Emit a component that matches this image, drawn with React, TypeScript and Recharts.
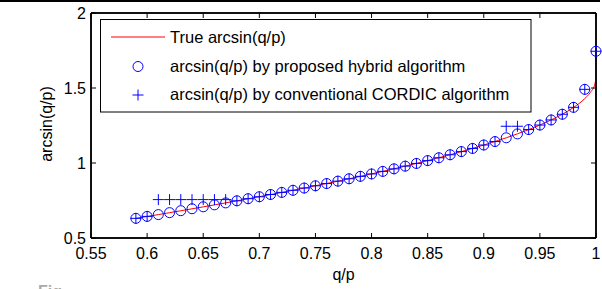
import React from "react";
import {
  ComposedChart,
  Line,
  Scatter,
  XAxis,
  YAxis,
  CartesianGrid,
} from "recharts";

// q/p sample points
const qpPoints = [
  0.59, 0.6, 0.61, 0.62, 0.63, 0.64, 0.65, 0.66, 0.67, 0.68, 0.69, 0.7, 0.71,
  0.72, 0.73, 0.74, 0.75, 0.76, 0.77, 0.78, 0.79, 0.8, 0.81, 0.82, 0.83, 0.84,
  0.85, 0.86, 0.87, 0.88, 0.89, 0.9, 0.91, 0.92, 0.93, 0.94, 0.95, 0.96, 0.97,
  0.98, 0.99, 1.0,
];

// arcsin(q/p) by proposed hybrid algorithm
const hybridValues = [
  0.631, 0.644, 0.656, 0.669, 0.682, 0.695, 0.708, 0.721, 0.734, 0.748, 0.762,
  0.775, 0.79, 0.804, 0.818, 0.833, 0.848, 0.863, 0.879, 0.895, 0.911, 0.927,
  0.944, 0.961, 0.979, 0.997, 1.016, 1.035, 1.055, 1.076, 1.097, 1.12, 1.143,
  1.168, 1.194, 1.223, 1.253, 1.287, 1.325, 1.371, 1.491, 1.745,
];

// arcsin(q/p) by conventional CORDIC algorithm
const cordicValues = [
  0.631, 0.644, 0.756, 0.756, 0.756, 0.756, 0.756, 0.756, 0.756, 0.748, 0.762,
  0.775, 0.79, 0.804, 0.818, 0.833, 0.848, 0.863, 0.879, 0.895, 0.911, 0.927,
  0.944, 0.961, 0.979, 0.997, 1.016, 1.035, 1.055, 1.076, 1.097, 1.12, 1.143,
  1.245, 1.245, 1.223, 1.253, 1.287, 1.325, 1.371, 1.491, 1.745,
];

// True arcsin(q/p) curve
const trueX = [
  0.59, 0.6, 0.61, 0.62, 0.63, 0.64, 0.65, 0.66, 0.67, 0.68, 0.69, 0.7, 0.71,
  0.72, 0.73, 0.74, 0.75, 0.76, 0.77, 0.78, 0.79, 0.8, 0.81, 0.82, 0.83, 0.84,
  0.85, 0.86, 0.87, 0.88, 0.89, 0.9, 0.91, 0.92, 0.93, 0.94, 0.95, 0.96, 0.97,
  0.98, 0.99, 0.995, 0.999, 1.0,
];
const trueY = [
  0.6311, 0.6435, 0.656, 0.6687, 0.6816, 0.6945, 0.7076, 0.7208, 0.7342,
  0.7478, 0.7615, 0.7754, 0.7895, 0.8038, 0.8183, 0.8331, 0.8481, 0.8633,
  0.8789, 0.8947, 0.9108, 0.9273, 0.9442, 0.9614, 0.9791, 0.9973, 1.016,
  1.0353, 1.0552, 1.0759, 1.0973, 1.1198, 1.1433, 1.1681, 1.1944, 1.2226,
  1.2532, 1.287, 1.3252, 1.3705, 1.4293, 1.4708, 1.5261, 1.5708,
];

const xTicks = [0.55, 0.6, 0.65, 0.7, 0.75, 0.8, 0.85, 0.9, 0.95, 1];
const yTicks = [0.5, 1, 1.5, 2];

const legendLabels = [
  "True arcsin(q/p)",
  "arcsin(q/p) by proposed hybrid algorithm",
  "arcsin(q/p) by conventional CORDIC algorithm",
];

const trueData = trueX.map((x, i) => ({ x, y: trueY[i] }));
const hybridData = qpPoints.map((x, i) => ({ x, y: hybridValues[i] }));
const cordicData = qpPoints.map((x, i) => ({ x, y: cordicValues[i] }));

const FONT = "'Liberation Sans', Arial, Helvetica, sans-serif";
const BLUE = "#0000ff";
const TICK = 5;

const fmt = (v: number) => String(v);

const BottomTick = (p: any) => {
  const { x, y, payload } = p;
  return (
    <g>
      <line x1={x} x2={x} y1={y} y2={y - TICK} stroke="#000" strokeWidth={1} />
      <text x={x} y={y + 20.5} textAnchor="middle" fontSize={16} fontFamily={FONT} fill="#000">
        {fmt(payload.value)}
      </text>
    </g>
  );
};

const TopTick = (p: any) => {
  const { x, y } = p;
  return <line x1={x} x2={x} y1={y} y2={y + TICK} stroke="#000" strokeWidth={1} />;
};

const LeftTick = (p: any) => {
  const { x, y, payload } = p;
  return (
    <g>
      <line x1={x} x2={x + TICK} y1={y} y2={y} stroke="#000" strokeWidth={1} />
      <text x={x - 5} y={y + 5.5} textAnchor="end" fontSize={16} fontFamily={FONT} fill="#000">
        {fmt(payload.value)}
      </text>
    </g>
  );
};

const RightTick = (p: any) => {
  const { x, y } = p;
  return <line x1={x} x2={x - TICK} y1={y} y2={y} stroke="#000" strokeWidth={1} />;
};

const CircleShape = (p: any) => {
  const { cx, cy } = p;
  if (cx == null || cy == null) return <g />;
  return <circle cx={cx} cy={cy} r={5} fill="none" stroke={BLUE} strokeWidth={1} />;
};

const PlusShape = (p: any) => {
  const { cx, cy } = p;
  if (cx == null || cy == null) return <g />;
  const s = 5.5;
  return (
    <g stroke={BLUE} strokeWidth={1}>
      <line x1={cx - s} x2={cx + s} y1={cy} y2={cy} />
      <line x1={cx} x2={cx} y1={cy - s} y2={cy + s} />
    </g>
  );
};

const LegendBox = () => (
  <svg width={602} height={289} style={{ position: "absolute", left: 0, top: 0, pointerEvents: "none" }}>
    <rect x={100.5} y={19.5} width={430.5} height={92.5} fill="#fff" stroke="#000" strokeWidth={1} />
    <line x1={111} x2={165} y1={37} y2={37} stroke="#ff0000" strokeWidth={1} />
    <circle cx={138} cy={66.5} r={5} fill="none" stroke={BLUE} strokeWidth={1} />
    <g stroke={BLUE} strokeWidth={1}>
      <line x1={132.5} x2={143.5} y1={95} y2={95} />
      <line x1={138} x2={138} y1={89.5} y2={100.5} />
    </g>
    {legendLabels.map((t, i) => (
      <text key={t} x={170} y={43 + i * 28.5} fontSize={16.5} fontFamily={FONT} fill="#000">
        {t}
      </text>
    ))}
  </svg>
);

export default function App() {
  return (
    <div style={{ position: "absolute", left: 0, top: 0, width: 602, height: 289, background: "#fff", overflow: "hidden" }}>
      <div style={{ position: "absolute", left: 0, top: 0, width: 600, height: 1.5, background: "#000" }} />
      <ComposedChart width={602} height={289} margin={{ top: 12, right: 5, bottom: 21, left: 31 }}>
        <CartesianGrid
          stroke="#000"
          strokeWidth={1.5}
          horizontalCoordinatesGenerator={({ offset }: any) => [offset.top, offset.top + offset.height]}
          verticalCoordinatesGenerator={({ offset }: any) => [offset.left, offset.left + offset.width]}
        />
        <XAxis
          xAxisId="b"
          dataKey="x"
          type="number"
          domain={[0.55, 1]}
          ticks={xTicks}
          height={30}
          tickSize={0}
          tickMargin={0}
          tickLine={false}
          tick={<BottomTick />}
          axisLine={{ stroke: "#000", strokeWidth: 1.5 }}
          interval={0}
          label={{ value: "q/p", position: "insideBottom", offset: -12, fontSize: 16, fontFamily: FONT, fill: "#000" }}
        />
        <XAxis
          xAxisId="t"
          orientation="top"
          dataKey="x"
          type="number"
          domain={[0.55, 1]}
          ticks={xTicks}
          height={1}
          tickSize={0}
          tickMargin={0}
          tickLine={false}
          tick={<TopTick />}
          axisLine={{ stroke: "#000", strokeWidth: 1.5 }}
          interval={0}
        />
        <YAxis
          yAxisId="l"
          type="number"
          domain={[0.5, 2]}
          ticks={yTicks}
          width={60}
          tickSize={0}
          tickMargin={0}
          tickLine={false}
          tick={<LeftTick />}
          axisLine={{ stroke: "#000", strokeWidth: 1.5 }}
          interval={0}
          label={{
            content: () => (
              <text x={52} y={124} transform="rotate(-90 52 124)" textAnchor="middle" fontSize={16} fontFamily={FONT} fill="#000">
                arcsin(q/p)
              </text>
            ),
          }}
        />
        <YAxis
          yAxisId="r"
          orientation="right"
          type="number"
          domain={[0.5, 2]}
          ticks={yTicks}
          width={1}
          tickSize={0}
          tickMargin={0}
          tickLine={false}
          tick={<RightTick />}
          axisLine={{ stroke: "#000", strokeWidth: 1.5 }}
          interval={0}
        />
        <Line
          xAxisId="t"
          yAxisId="r"
          data={trueData}
          dataKey="y"
          type="monotone"
          stroke="#ff0000"
          strokeWidth={1}
          dot={false}
          activeDot={false}
          isAnimationActive={false}
        />
        <Scatter xAxisId="b" yAxisId="l" data={hybridData} dataKey="y" shape={<CircleShape />} isAnimationActive={false} />
        <Scatter xAxisId="b" yAxisId="l" data={cordicData} dataKey="y" shape={<PlusShape />} isAnimationActive={false} />
      </ComposedChart>
      <LegendBox />
      <div
        style={{
          position: "absolute", left: 38, top: 284, fontFamily: FONT, fontSize: 16, lineHeight: "16px",
          fontWeight: "bold", color: "#aaa", whiteSpace: "nowrap",
        }}
      >
        Fig.
      </div>
    </div>
  );
}
